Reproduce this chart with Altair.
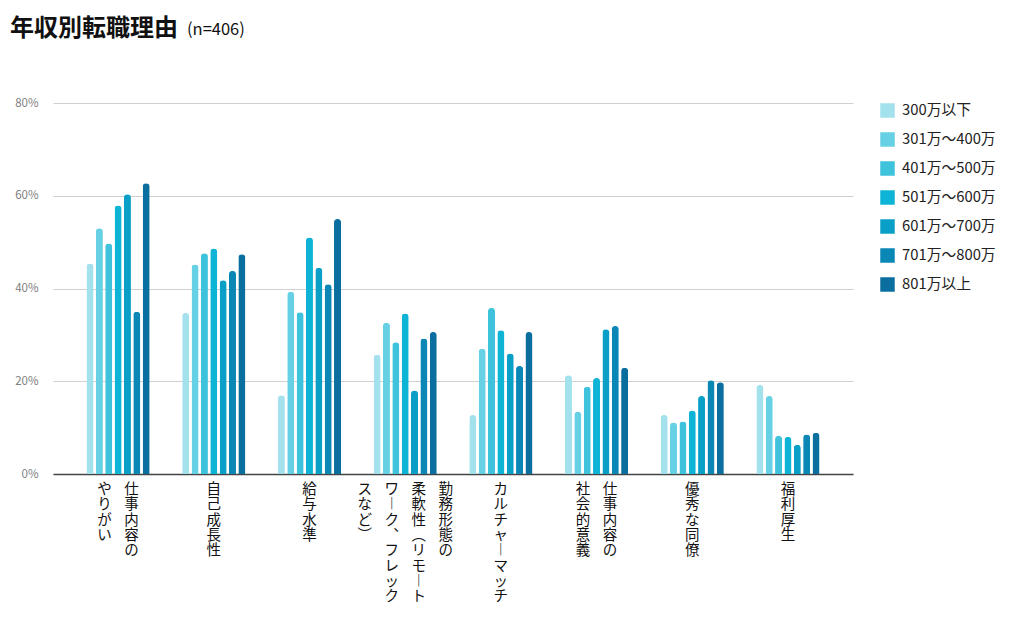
import altair as alt
import pandas as pd

FONT = "Noto Sans CJK JP"

categories = [
    "仕事内容のやりがい",
    "自己成長性",
    "給与水準",
    "勤務形態の柔軟性（リモートワーク、フレックスなど）",
    "カルチャーマッチ",
    "仕事内容の社会的意義",
    "優秀な同僚",
    "福利厚生",
]

# vertical label columns (right to left), using vertical presentation forms
label_columns = [
    ["仕事内容の", "やりがい"],
    ["自己成長性"],
    ["給与水準"],
    ["勤務形態の", "柔軟性︵リモ︱ト", "ワ︱ク︑フレック", "スなど︶"],
    ["カルチャ︱マッチ"],
    ["仕事内容の", "社会的意義"],
    ["優秀な同僚"],
    ["福利厚生"],
]

series = ["300万以下", "301万～400万", "401万～500万", "501万～600万",
          "601万～700万", "701万～800万", "801万以上"]

v300 = [45.4, 34.7, 17.0, 25.7, 12.7, 21.3, 12.7, 19.2]
v400 = [53.0, 45.2, 39.3, 32.6, 27.0, 13.4, 11.1, 16.8]
v500 = [49.7, 47.6, 34.9, 28.4, 35.8, 18.8, 11.3, 8.2]
v600 = [57.9, 48.6, 51.0, 34.6, 31.0, 20.7, 13.7, 8.0]
v700 = [60.3, 41.8, 44.5, 18.0, 26.0, 31.2, 16.8, 6.3]
v800 = [35.0, 43.8, 40.9, 29.2, 23.3, 31.9, 20.2, 8.5]
v801 = [62.7, 47.4, 55.0, 30.6, 30.6, 22.9, 19.8, 8.9]

colors = ["#a3e2ec", "#66d0e4", "#3fc2dc", "#0eb4d6", "#0a9fc7", "#0a87b5", "#0a6f9f"]

title_text = "年収別転職理由"
subtitle_text = "(n=406)"

all_values = [v300, v400, v500, v600, v700, v800, v801]
rows = []
for s, vals in zip(series, all_values):
    for c, v in zip(categories, vals):
        rows.append({"理由": c, "年収": s, "割合": v})
df = pd.DataFrame(rows)

lab_rows = []
for c, cols in zip(categories, label_columns):
    n = len(cols)
    for j, col in enumerate(cols):
        off = ((n - 1) / 2 - j) * 27
        lab_rows.append({"理由": c, "text": "\n".join(list(col)), "off": off})
lab_df = pd.DataFrame(lab_rows)

xscale = alt.Scale(domain=categories, paddingInner=0.34, paddingOuter=0.35)

bars = alt.Chart(df).mark_bar(cornerRadiusTopLeft=3.3, cornerRadiusTopRight=3.3).encode(
    x=alt.X("理由:N", sort=categories, scale=xscale,
            axis=alt.Axis(labels=False, ticks=False, title=None, domainColor="#444",
                          domainWidth=1.5)),
    xOffset=alt.XOffset("年収:N", sort=series, scale=alt.Scale(domain=series, paddingInner=0.25)),
    y=alt.Y("割合:Q", scale=alt.Scale(domain=[0, 80]),
            axis=alt.Axis(values=[0, 20, 40, 60, 80], labelExpr="datum.value + '%'",
                          title=None, domain=False, ticks=False, labelPadding=15,
                          labelFontSize=11.5, labelColor="#808080", labelFont=FONT,
                          gridColor="#d0d0d0", gridWidth=1)),
    color=alt.Color("年収:N", sort=series, scale=alt.Scale(domain=series, range=colors),
                    legend=alt.Legend(title=None, orient="right", offset=27,
                                      symbolType="square", symbolSize=210,
                                      symbolStrokeWidth=0, labelFontSize=14.8,
                                      labelFont=FONT, labelColor="#222",
                                      rowPadding=13, labelOffset=7, padding=0)),
)

layers = [bars]
for off in sorted(lab_df["off"].unique()):
    sub = lab_df[lab_df["off"] == off]
    layers.append(
        alt.Chart(sub).mark_text(lineBreak="\n", baseline="top", align="center",
                                 fontSize=14.5, lineHeight=15.3, font=FONT, color="#111",
                                 dx=float(off)).encode(
            x=alt.X("理由:N", sort=categories, scale=xscale),
            y=alt.value(380),
            text="text:N",
        )
    )

title_df = pd.DataFrame({"t": [title_text]})
layers.append(
    alt.Chart(title_df).mark_text(align="left", baseline="alphabetic", fontSize=24,
                                  fontWeight="bold", font=FONT, color="#111").encode(
        x=alt.value(-43), y=alt.value(-67), text="t:N")
)
sub_df = pd.DataFrame({"t": [subtitle_text]})
layers.append(
    alt.Chart(sub_df).mark_text(align="left", baseline="alphabetic", fontSize=16.5,
                                font=FONT, color="#111").encode(
        x=alt.value(134), y=alt.value(-68), text="t:N")
)

chart = alt.layer(*layers).properties(
    width=800, height=371,
    padding={"left": 2, "top": 9, "right": 5, "bottom": 0},
).configure_view(stroke=None)

chart.save("out.html", embed_options={"renderer": "svg", "actions": False})
